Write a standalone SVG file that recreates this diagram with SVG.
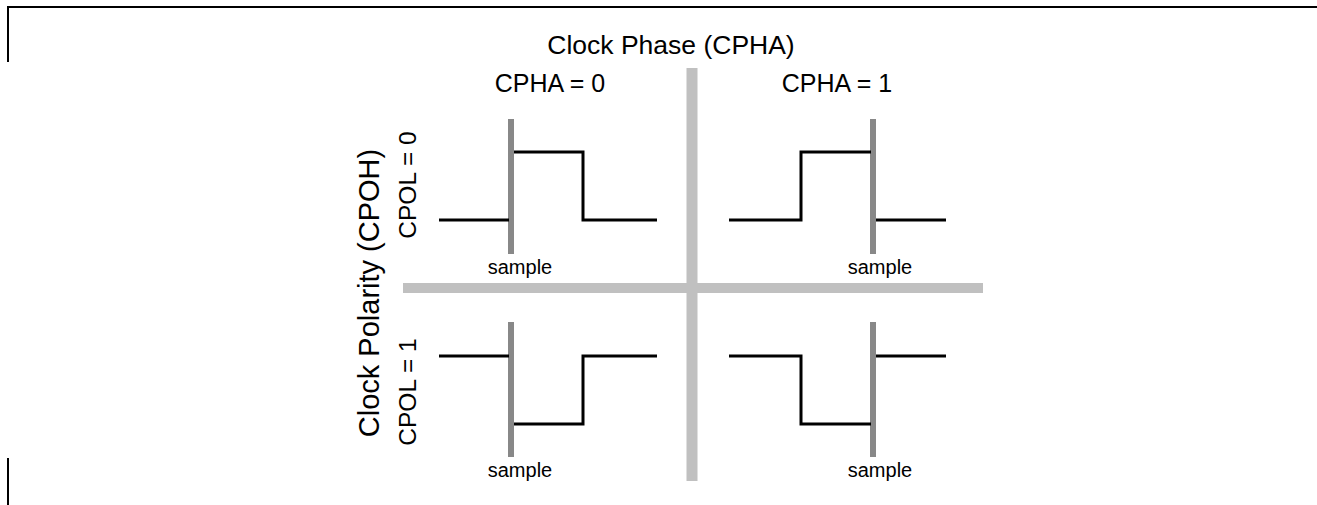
<svg xmlns="http://www.w3.org/2000/svg" width="1317" height="505" viewBox="0 0 1317 505">
<style>
.t{font-family:"Liberation Sans",Arial,sans-serif;fill:#000;text-anchor:middle}
.sig{fill:none;stroke:#000;stroke-width:3}
.smp{stroke:#888;stroke-width:6}
.div{stroke:#c0c0c0}
.fr{stroke:#000;stroke-width:2;fill:none}
</style>
<rect width="1317" height="505" fill="#fff"/>
<path class="fr" d="M8,62 V7 H1317 M8,458 V505"/>
<g id="dividers">
<line class="div" x1="692" y1="68" x2="692" y2="481" stroke-width="11"/>
<line class="div" x1="403" y1="288" x2="983" y2="288" stroke-width="10"/>
</g>
<g id="labels">
<text class="t" x="671" y="54" font-size="26.5">Clock Phase (CPHA)</text>
<text class="t" x="550" y="92" font-size="25">CPHA = 0</text>
<text class="t" x="837" y="92" font-size="25">CPHA = 1</text>
<text class="t" font-size="29" transform="translate(379,293) rotate(-90)">Clock Polarity (CPOH)</text>
<text class="t" font-size="24.5" transform="translate(416,185) rotate(-90)">CPOL = 0</text>
<text class="t" font-size="24.5" transform="translate(416,392) rotate(-90)">CPOL = 1</text>
</g>
<g id="q00">
<line class="smp" x1="511" y1="119" x2="511" y2="254"/>
<path class="sig" d="M439,220 H509 M514,152 H583 V220 H657"/>
<text class="t" x="520" y="274" font-size="20">sample</text>
</g>
<g id="q01">
<line class="smp" x1="873" y1="119" x2="873" y2="254"/>
<path class="sig" d="M729,220 H801 V152 H871 M876,220 H946"/>
<text class="t" x="880" y="274" font-size="20">sample</text>
</g>
<g id="q10">
<line class="smp" x1="511" y1="322" x2="511" y2="457"/>
<path class="sig" d="M439,356 H509 M514,424 H583 V356 H657"/>
<text class="t" x="520" y="477" font-size="20">sample</text>
</g>
<g id="q11">
<line class="smp" x1="873" y1="322" x2="873" y2="457"/>
<path class="sig" d="M729,356 H801 V424 H871 M876,356 H946"/>
<text class="t" x="880" y="477" font-size="20">sample</text>
</g>
</svg>
